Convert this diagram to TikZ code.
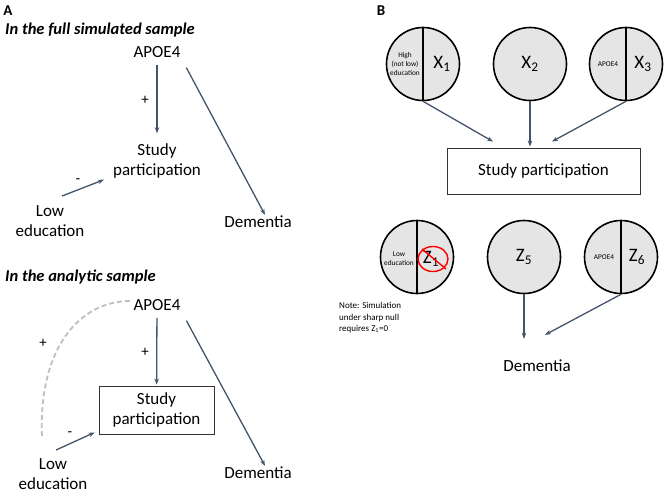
\documentclass[tikz,border=0pt]{standalone}
\usepackage{fontspec}
\setmainfont{Carlito}
\usetikzlibrary{arrows.meta}
\definecolor{arrc}{HTML}{44546A}
\definecolor{cfill}{HTML}{E5E5E5}
\definecolor{dashc}{HTML}{BFBFBF}
\begin{document}
\begin{tikzpicture}[x=1pt,y=-1pt,
  txt/.style={font=\fontsize{17}{20.5}\selectfont, align=center, inner sep=1pt},
  ttl/.style={font=\bfseries\itshape\fontsize{16.5}{20}\selectfont, anchor=west, inner sep=0pt},
  panel/.style={font=\bfseries\fontsize{15}{16}\selectfont, inner sep=0pt},
  arr/.style={draw=arrc, line width=1.3pt, -{Stealth[length=6pt,width=4.5pt]}},
  sign/.style={font=\fontsize{15}{15}\selectfont, inner sep=0pt},
  circ/.style={circle, draw=black, line width=1.6pt, fill=cfill, minimum size=73pt, inner sep=0pt},
  big/.style={font=\fontsize{19}{20}\selectfont, inner sep=0pt},
  small/.style={font=\fontsize{7.3}{8.7}\selectfont, align=center, inner sep=0pt},
  boxst/.style={draw=black!80, line width=0.9pt},
  divider/.style={line width=1.6pt}
]
\useasboundingbox (0,0) rectangle (667,495);
% ---------- panel A, top ----------
\node[panel] (pA) at (8,11) {A};
\node[ttl] (t1) at (5,30) {In the full simulated sample};
\node[txt] (apoeA) at (157,52) {APOE4};
\node[txt] (studyA) at (157,161) {Study\\participation};
\node[txt] (lowA) at (50,221) {Low\\education};
\node[txt] (demA) at (258,222) {Dementia};
\node[sign] (pl1) at (145,100) {+};
\node[sign] (mi1) at (78,181) {-};
\draw[arr, shorten <=6pt, shorten >=9pt] (apoeA) -- (studyA);
\draw[arr, shorten <=10pt] (apoeA.south east) -- ([xshift=7pt]demA.north);
\draw[arr] ([xshift=12pt,yshift=8pt]lowA.north) -- ([xshift=-8pt]studyA.south west);
% ---------- panel A, bottom ----------
\node[ttl] (t2) at (5,277) {In the analytic sample};
\node[txt] (apoeB) at (157,305) {APOE4};
\node[txt, boxst, minimum width=115pt, minimum height=48pt] (studyB) at (156.5,410) {Study\\participation};
\node[txt] (lowB) at (53,474) {Low\\education};
\node[txt] (demB) at (258,473) {Dementia};
\node[sign] (pl2) at (145,352) {+};
\node[sign] (pl3) at (43,343) {+};
\node[sign] (mi2) at (70,434) {-};
\draw[arr, shorten <=6pt, shorten >=1pt] (apoeB) -- (studyB);
\draw[arr, shorten <=10pt] (apoeB.south east) -- ([xshift=7pt]demB.north);
\draw[arr] ([xshift=3pt,yshift=7pt]lowB.north) -- ([xshift=-4pt,yshift=2pt]studyB.south west);
\draw[dashc, line width=1.8pt, dash pattern=on 5pt off 3pt]
  ([xshift=-2.5pt,yshift=4pt]apoeB.west) .. controls (82,301) and (38,345) .. ([xshift=-11pt,yshift=19.5pt]lowB.north);
% ---------- panel B ----------
\node[panel] (pB) at (381,11) {B};
\node[circ] (x1) at (423,64) {};
\draw[divider] (x1.north) -- (x1.south);
\node[small] (x1t) at ([xshift=-18pt]x1.center) {High\\(not low)\\education};
\node[big] (x1l) at ([xshift=19pt]x1.center) {X\textsubscript{1}};
\node[circ] (x2) at (530,64) {};
\node[big] (x2l) at (x2.center) {X\textsubscript{2}};
\node[circ] (x3) at (626,64) {};
\draw[divider] (x3.north) -- (x3.south);
\node[small] (x3t) at ([xshift=-18pt]x3.center) {APOE4};
\node[big] (x3l) at ([xshift=17pt]x3.center) {X\textsubscript{3}};
\node[txt, boxst, minimum width=193pt, minimum height=46pt] (studyC) at (543.5,171) {Study participation};
\draw[arr] (x1.south) -- ([xshift=-50.5pt,yshift=6pt]studyC.north);
\draw[arr] (x2.south) -- ([xshift=-13.5pt,yshift=1pt]studyC.north);
\draw[arr] (x3.south) -- ([xshift=8.5pt,yshift=6pt]studyC.north);
\node[circ] (z1) at (417,257) {};
\draw[divider] (z1.north) -- (z1.south);
\node[small] (z1t) at ([xshift=-18pt,yshift=-2pt]z1.center) {Low\\education};
\node[big] (z1l) at ([xshift=14pt,yshift=-2pt]z1.center) {Z\textsubscript{1}};
\draw[red, line width=1.4pt] ([xshift=16pt,yshift=-2pt]z1.center) ellipse [x radius=15pt, y radius=12.5pt];
\draw[red, line width=1.4pt] ([xshift=5pt,yshift=8pt]z1.center) -- ([xshift=29pt,yshift=-12pt]z1.center);
\node[circ] (z5) at (524,257) {};
\node[big] (z5l) at (z5.center) {Z\textsubscript{5}};
\node[circ] (z6) at (621,257) {};
\draw[divider] (z6.north) -- (z6.south);
\node[small] (z6t) at ([xshift=-17pt]z6.center) {APOE4};
\node[big] (z6l) at ([xshift=16pt]z6.center) {Z\textsubscript{6}};
\node[anchor=west, align=left, font=\fontsize{9}{11.5}\selectfont, inner sep=0pt] (note) at (339,318) {Note: Simulation\\under sharp null\\requires Z\textsubscript{1}=0};
\node[txt] (demC) at (537,366) {Dementia};
\draw[arr] (z5.south) -- ([xshift=-13pt,yshift=20pt]demC.north);
\draw[arr] (z6.south) -- ([xshift=8pt,yshift=24pt]demC.north);
\end{tikzpicture}
\end{document}
